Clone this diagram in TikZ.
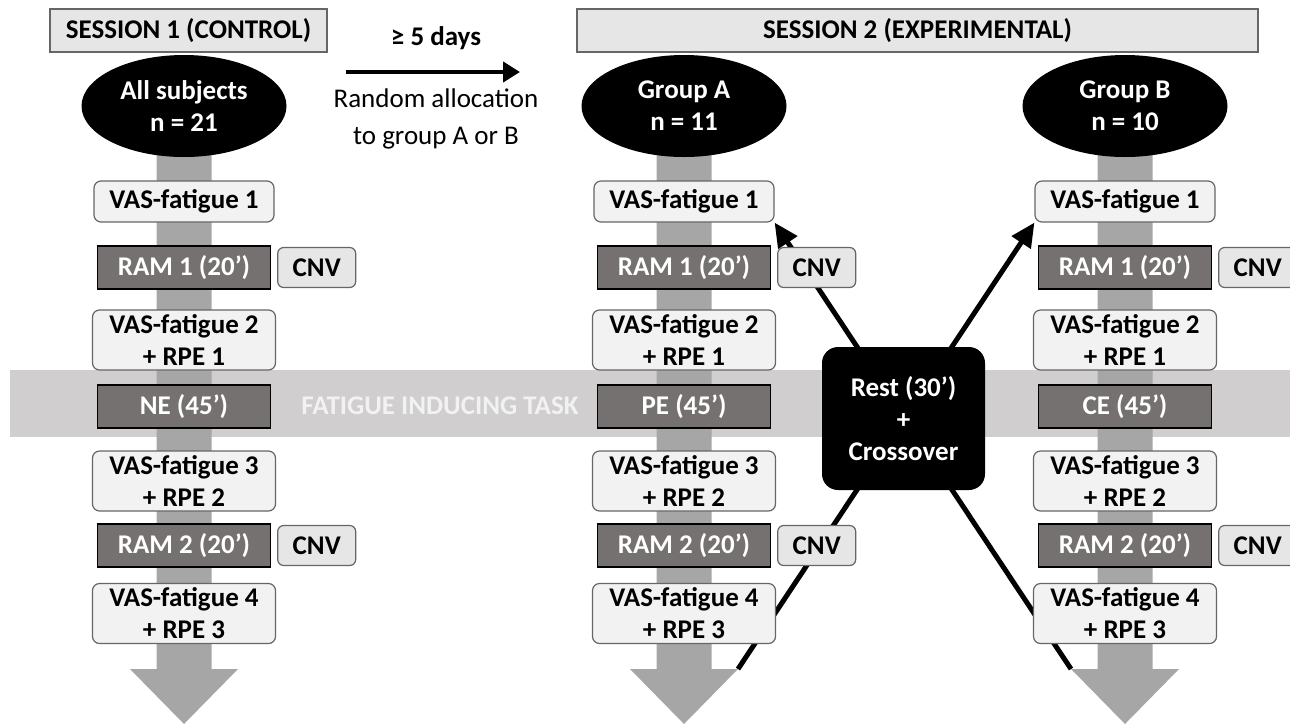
\documentclass[tikz,border=0pt]{standalone}
\usepackage{fontspec}
\setmainfont{Carlito}
\usetikzlibrary{arrows.meta,positioning,shapes.geometric}
\definecolor{bandgray}{HTML}{D0CECE}
\definecolor{stemgray}{HTML}{A6A6A6}
\definecolor{ramgray}{HTML}{767171}
\definecolor{boxgray}{HTML}{F2F2F2}
\definecolor{cnvgray}{HTML}{E7E6E6}
\definecolor{edgegray}{HTML}{666666}
\pgfdeclarelayer{back}
\pgfdeclarelayer{mid}
\pgfsetlayers{back,mid,main}

\begin{document}
\begin{tikzpicture}[x=1pt,y=-1pt,
  font=\bfseries\fontsize{27}{32}\selectfont,
  every node/.style={inner sep=0pt,align=center},
  header/.style={draw=edgegray,line width=1.2pt,fill=cnvgray,minimum height=43pt},
  group/.style={ellipse,fill=black,text=white,minimum width=205pt,minimum height=102pt},
  vas/.style={draw=edgegray,line width=1.2pt,fill=boxgray,rounded corners=7pt,minimum width=180pt,minimum height=41pt},
  vastwo/.style={vas,minimum width=183pt,minimum height=60pt},
  ram/.style={draw=black,line width=1.2pt,fill=ramgray,text=white,minimum width=173pt,minimum height=43pt},
  cnv/.style={draw=edgegray,line width=1.2pt,fill=cnvgray,rounded corners=6pt,minimum width=78pt,minimum height=40pt},
  cross/.style={line width=5pt,-{Triangle[length=24pt,width=22pt]}}]
\useasboundingbox (0,0) rectangle (1290,724);

% headers
\node[header,minimum width=277pt] (sess1) at (188.5,30.5) {SESSION 1 (CONTROL)};
\node[header,minimum width=681pt] (sess2) at (917.5,30.5) {SESSION 2 (EXPERIMENTAL)};

% allocation between sessions
\coordinate (gapL) at (346,72);
\coordinate (gapR) at (520,72);
\draw[line width=4.5pt,-{Triangle[length=17pt,width=20pt]}] (gapL) -- (gapR);
\node (days) at (436,38) {≥ 5 days};
\node[font=\mdseries\fontsize{27}{37}\selectfont] (alloc) at (436,119) {Random allocation\\to group A or B};

% fatigue band
\begin{pgfonlayer}{back}
\fill[bandgray] (10,370) rectangle (1290,437);
\end{pgfonlayer}
\node[text=boxgray] (fatigue) at (440,406) {FATIGUE INDUCING TASK};

\foreach \c/\x/\who/\ex in {L/184/{All subjects\\n = 21}/NE, A/684/{Group A\\n = 11}/PE, B/1125/{Group B\\n = 10}/CE}{
  \begin{pgfonlayer}{back}
  \fill[stemgray] ({\x-27.5},150) -- ({\x+27.5},150) -- ({\x+27.5},669) -- ({\x+54},669)
    -- (\x,724) -- ({\x-54},669) -- ({\x-27.5},669) -- cycle;
  \end{pgfonlayer}
  \coordinate (hdl\c) at ({\x-54},669);
  \coordinate (hdr\c) at ({\x+54},669);
  \node[group] (grp\c) at (\x,106) {\who};
  \node[vas] (vas1\c) at (\x,201.5) {VAS-fatigue 1};
  \node[ram] (ram1\c) at (\x,267.5) {RAM 1 (20’)};
  \node[cnv,right=6pt of ram1\c] (cnv1\c) {CNV};
  \node[vastwo] (vas2\c) at (\x,340) {VAS-fatigue 2\\+ RPE 1};
  \node[ram] (task\c) at (\x,406.5) {\ex\ (45’)};
  \node[vastwo] (vas3\c) at (\x,481) {VAS-fatigue 3\\+ RPE 2};
  \node[ram] (ram2\c) at (\x,545.5) {RAM 2 (20’)};
  \node[cnv,right=6pt of ram2\c] (cnv2\c) {CNV};
  \node[vastwo] (vas4\c) at (\x,613.5) {VAS-fatigue 4\\+ RPE 3};
}

% crossover
\node[fill=black,text=white,rounded corners=16pt,minimum width=163pt,minimum height=143pt] (rest) at (903.5,418.5) {Rest (30’)\\+\\Crossover};
\begin{pgfonlayer}{mid}
\draw[cross] (hdlB) -- (vas1A.south east);
\draw[cross] (hdrA) -- (vas1B.south west);
\end{pgfonlayer}
\end{tikzpicture}
\end{document}
